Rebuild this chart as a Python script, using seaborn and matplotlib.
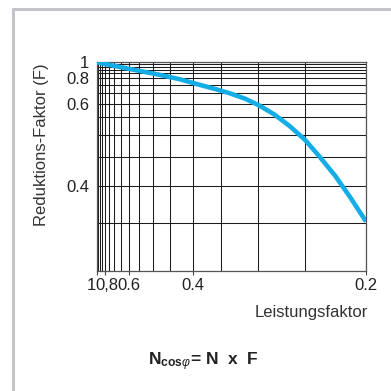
import numpy as np
import pandas as pd
import matplotlib
matplotlib.use("Agg")
import matplotlib.pyplot as plt
import matplotlib.transforms as mtransforms
import seaborn as sns
from matplotlib.ticker import FixedLocator, MultipleLocator
from matplotlib.patches import Rectangle

# Reduction factor F as a function of the power factor cos(phi)
power_factor = [1.0, 0.741, 0.622, 0.547, 0.478, 0.427, 0.386, 0.360, 0.337, 0.316,
                0.298, 0.281, 0.265, 0.250, 0.237, 0.224, 0.212, 0.2]
reduction = [1.0, 0.931, 0.874, 0.830, 0.784, 0.743, 0.700, 0.674, 0.649, 0.622,
             0.592, 0.559, 0.523, 0.487, 0.451, 0.417, 0.384, 0.352]

x_ticks = [1.0, 0.8, 0.6, 0.4, 0.2]
x_tick_labels = ["1", "0,8", "0.6", "0.4", "0.2"]
y_ticks = [1.0, 0.8, 0.6, 0.4]
y_tick_labels = ["1", "0.8", "0.6", "0.4"]

df = pd.DataFrame({"cosphi": power_factor, "F": reduction})

sns.set_theme(style="white")
plt.rcParams["font.family"] = ["Liberation Sans", "DejaVu Sans"]
plt.rcParams["mathtext.fontset"] = "custom"
plt.rcParams["mathtext.rm"] = "Liberation Sans"
plt.rcParams["mathtext.bf"] = "Liberation Sans:bold"
plt.rcParams["mathtext.it"] = "Liberation Sans:italic"

W = H = 391
fig = plt.figure(figsize=(W / 100, H / 100), dpi=100)
fig.patch.set_facecolor("white")

# axes box in pixels
left, right, top, bottom = 96.7, 366.0, 62.3, 270.7
ax = fig.add_axes([left / W, 1 - bottom / H, (right - left) / W, (bottom - top) / H])


# exponential scale used on both axes
def fwd(v):
    return -np.exp(-5.0 * np.asarray(v, dtype=float))


def inv(t):
    t = np.asarray(t, dtype=float)
    return -np.log(np.clip(-t, 1e-12, None)) / 5.0


ax.set_xscale("function", functions=(fwd, inv))
ax.set_yscale("function", functions=(fwd, inv))

sns.lineplot(data=df, x="cosphi", y="F", ax=ax, color="#14ade6", lw=3.3,
             solid_capstyle="butt", solid_joinstyle="round", zorder=5)

ax.set_xlim(1.0, 0.2)
ax.set_ylim(0.3, 1.0)

ax.xaxis.set_major_locator(FixedLocator(x_ticks))
ax.xaxis.set_minor_locator(MultipleLocator(0.05))
ax.yaxis.set_major_locator(FixedLocator(y_ticks))
ax.yaxis.set_minor_locator(MultipleLocator(0.05))
ax.set_xticklabels(x_tick_labels)
ax.set_yticklabels(y_tick_labels)

ax.grid(True, which="both", color="#1c1c1c", lw=0.75)
ax.set_axisbelow(True)

ax.tick_params(axis="x", which="major", length=3, width=0.8, color="#444",
               pad=2.5, labelsize=12, labelcolor="#222", bottom=True)
ax.tick_params(axis="y", which="major", length=0, pad=5.5, labelsize=12,
               labelcolor="#222", left=True)
ax.tick_params(which="minor", length=0)

# the crowded labels near cos(phi) = 1 are nudged apart
xl = ax.get_xticklabels()
xl[0].set_ha("right")
xl[0].set_transform(xl[0].get_transform()
                    + mtransforms.ScaledTranslation(-1 / 100, 0, fig.dpi_scale_trans))
xl[1].set_transform(xl[1].get_transform()
                    + mtransforms.ScaledTranslation(2 / 100, 0, fig.dpi_scale_trans))
yl = ax.get_yticklabels()
yl[1].set_transform(yl[1].get_transform()
                    + mtransforms.ScaledTranslation(0, -5 / 100, fig.dpi_scale_trans))

for s in ax.spines.values():
    s.set_color("#555555")
    s.set_linewidth(0.9)

ax.set_xlabel("Leistungsfaktor", fontsize=12, color="#333333", ha="right", va="center")
ax.xaxis.set_label_coords((368 - left) / (right - left), (bottom - 312) / (bottom - top))
ax.set_ylabel("Reduktions-Faktor (F)", fontsize=12, color="#333333", va="center")
ax.yaxis.set_label_coords((42 - left) / (right - left), (bottom - 145) / (bottom - top))

fig.text(203 / W, 1 - 362 / H, r"$\mathbf{N}_{\mathbf{cos}\varphi}$= N  x  F",
         ha="center", va="center", fontsize=12.5, fontweight="bold", color="#222")

# light grey frame around the panel
fig.patches.append(Rectangle((13.5 / W, -0.2), 1.5, 1.2 - 9 / H, transform=fig.transFigure,
                             fill=False, ec="#c3c5c9", lw=2.2))

fig.savefig("out.png", dpi=100, facecolor="white")
